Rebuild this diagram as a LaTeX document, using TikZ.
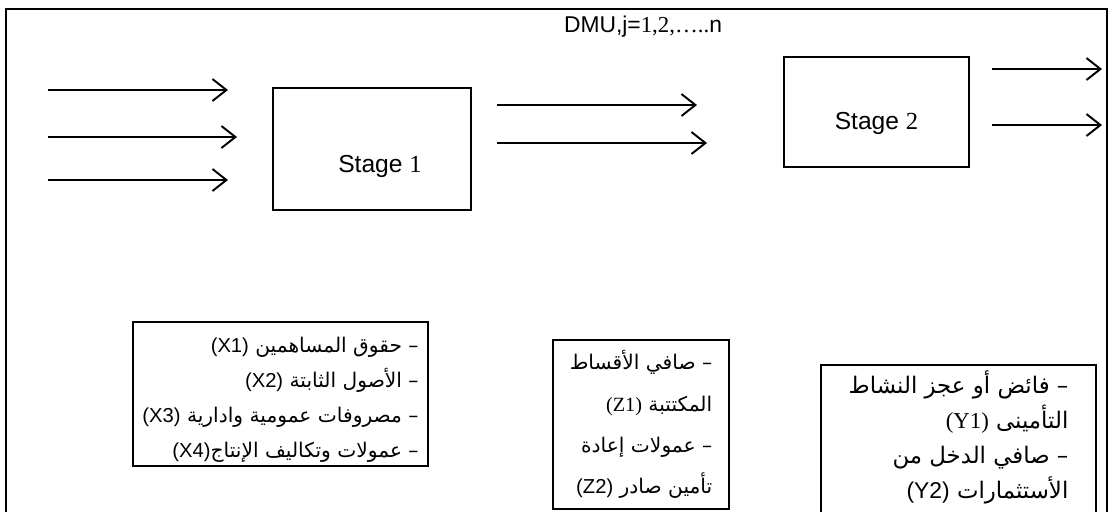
\documentclass[tikz,border=0pt]{standalone}
\usepackage{fontspec}
\setmainfont{Liberation Sans}
\newfontfamily\arabicfont[Script=Arabic]{DejaVu Sans}
\newfontfamily\numfont{Liberation Serif}
\TeXXeTstate=1
\usetikzlibrary{arrows.meta, positioning}
\newcommand{\arln}[1]{\beginR #1\endR}
\newcommand{\ltrn}[1]{\beginL #1\endL}

\begin{document}
\begin{tikzpicture}[
    x=0.02cm, y=-0.02cm,
    every node/.style={font=\fontsize{14}{17}\selectfont},
    stagebox/.style={rectangle, draw=black, line width=1.2pt, inner sep=0pt},
    varbox/.style={rectangle, draw=black, line width=1.1pt, align=right, inner xsep=0.14cm, inner ysep=0pt, font=\arabicfont\fontsize{11.5}{19.9}\selectfont},
    arrow/.style={-{Straight Barb[length=2.8mm, width=4.4mm]}, line width=1.1pt},
    frame/.style={line width=1.4pt}
]
\useasboundingbox (0,0) rectangle (1111,511);
% --- outer frame, open at the bottom ---
\draw[frame] (6,560) |- (1107,9) -- (1107,560);

% --- stages ---
\node[stagebox, minimum width=3.96cm, minimum height=2.44cm] (stage1) at (372,149) {};
\node (stage1txt) at ([xshift=0.16cm, yshift=-0.34cm]stage1.center) {Stage {\numfont 1}};
\node[stagebox, minimum width=3.7cm, minimum height=2.2cm] (stage2) at (876.5,112) {};
\node (stage2txt) at ([yshift=-0.22cm]stage2.center) {Stage {\numfont 2}};
\node[font=\fontsize{13}{16}\selectfont] (dmu) at (643,27) {DMU,j={\numfont 1,2,…..}n};

% --- inputs of stage 1 ---
\coordinate (in1s) at (48,90);  \coordinate (in1e) at (228,90);
\coordinate (in2s) at (48,137); \coordinate (in2e) at (237,137);
\coordinate (in3s) at (48,180); \coordinate (in3e) at (228,180);
\draw[arrow] (in1s) -- (in1e);
\draw[arrow] (in2s) -- (in2e);
\draw[arrow] (in3s) -- (in3e);

% --- intermediate ---
\coordinate (mid1s) at (497,105); \coordinate (mid1e) at (697,105);
\coordinate (mid2s) at (497,143); \coordinate (mid2e) at (707,143);
\draw[arrow] (mid1s) -- (mid1e);
\draw[arrow] (mid2s) -- (mid2e);

% --- outputs of stage 2 ---
\coordinate (out1s) at (992,69);  \coordinate (out1e) at (1102,69);
\coordinate (out2s) at (992,125); \coordinate (out2e) at (1102,125);
\draw[arrow] (out1s) -- (out1e);
\draw[arrow] (out2s) -- (out2e);

% --- variable boxes ---
\node[varbox, minimum width=5.9cm, minimum height=2.88cm] (xbox) at (280.5,394) {};
\node[varbox, draw=none] (xtxt) at ([yshift=-0.12cm]xbox.center) {%
  \arln{– حقوق المساهمين  \ltrn{{\rmfamily(X1)}}}\\
  \arln{– الأصول الثابتة  \ltrn{{\rmfamily(X2)}}}\\
  \arln{– مصروفات عمومية وادارية \ltrn{{\rmfamily(X3)}}}\\
  \arln{– عمولات وتكاليف الإنتاج\ltrn{{\rmfamily(X4)}}}};
\node[varbox, font=\arabicfont\fontsize{11.5}{23.5}\selectfont, minimum width=3.52cm, minimum height=3.38cm] (zbox) at (641,424.5) {%
  \arln{– صافي الأقساط}\\
  \arln{المكتتبة \ltrn{{\numfont(Z1)}}}\\
  \arln{– عمولات إعادة}\\
  \arln{تأمين صادر  \ltrn{{\rmfamily(Z2)}}}};
\node[varbox, draw=none, font=\arabicfont\fontsize{13}{20}\selectfont, minimum width=5.46cm, minimum height=2.86cm] (ybox) at (958.5,437.5) {%
  \arln{– فائض أو عجز النشاط}\\
  \arln{التأمينى \ltrn{{\numfont(Y1)}}}\\
  \arln{– صافي الدخل من}\\
  \arln{الأستثمارات \ltrn{{\rmfamily(Y2)}}}};
\draw[line width=1.1pt] ([yshift=-1cm]ybox.south west) -- (ybox.north west) -- (ybox.north east) -- ([yshift=-1cm]ybox.south east);
\end{tikzpicture}
\end{document}
